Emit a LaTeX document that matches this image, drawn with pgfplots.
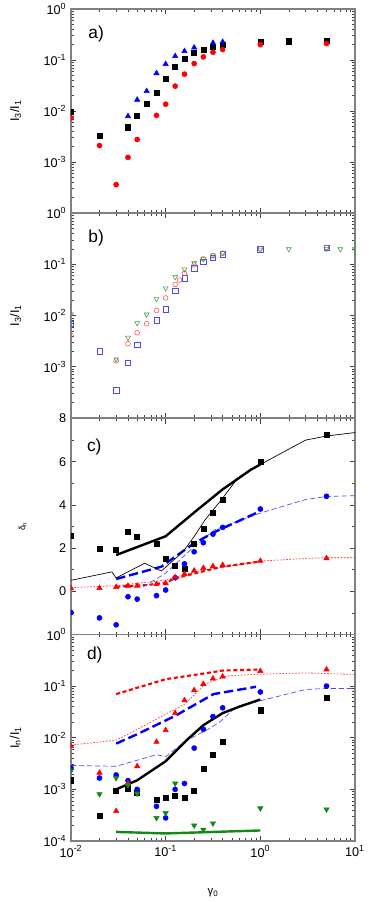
\documentclass[border=0pt]{standalone}
\usepackage{fontspec}
\setmainfont{Liberation Sans}
\usepackage{pgfplots}
\pgfplotsset{compat=1.18}

\definecolor{cred}{HTML}{FF0000}
\definecolor{cblue}{HTML}{0000FF}
\definecolor{cgreen}{HTML}{138A13}
\definecolor{lblue}{HTML}{4A4AFF}
\definecolor{lred}{HTML}{FF4A4A}
\definecolor{lgreen}{HTML}{3A9A3A}

\newcommand{\tsup}[1]{10\textsuperscript{#1}}

\pgfplotsset{
  panel/.style={
    scale only axis, width=213pt, anchor=south west,
    xmin=0.01, xmax=10,
    xtick={0.01,0.1,1,10},
    minor xtick={0.02,0.03,0.04,0.05,0.06,0.07,0.08,0.09,0.2,0.3,0.4,0.5,0.6,0.7,0.8,0.9,2,3,4,5,6,7,8,9},
    axis line style={draw=gray, line width=1pt},
    tick style={draw=gray!50!black, line width=0.4pt},
    major tick length=4pt, minor tick length=2pt,
    tick label style={font=\fontsize{9.5}{11}\selectfont},
    clip marker paths=true,
    ylabel style={at={(axis description cs:-0.195,0.5)}, anchor=center,
      font=\fontsize{9.5}{11}\selectfont},
  },
  logy/.style={
    ymin=1e-4, ymax=1,
    ytick={1e-4,1e-3,1e-2,1e-1,1},
    minor ytick={2e-4,3e-4,4e-4,5e-4,6e-4,7e-4,8e-4,9e-4,2e-3,3e-3,4e-3,5e-3,6e-3,7e-3,8e-3,9e-3,0.02,0.03,0.04,0.05,0.06,0.07,0.08,0.09,0.2,0.3,0.4,0.5,0.6,0.7,0.8,0.9},
  },
  bsq/.style={only marks, mark=square*, mark size=1.9pt, draw=none, fill=black},
  rci/.style={only marks, mark=*, mark size=1.9pt, color=cred},
  btr/.style={only marks, mark=triangle*, mark size=2.3pt, color=cblue},
  rtr/.style={only marks, mark=triangle*, mark size=2.3pt, color=cred},
  bci/.style={only marks, mark=*, mark size=1.9pt, color=cblue},
  gtd/.style={only marks, mark=triangle*, mark size=2.3pt, color=cgreen,
    every mark/.append style={rotate=180}},
}

\begin{document}
\begin{tikzpicture}
\path[use as bounding box] (0,0) rectangle (278.25pt,676.5pt);

% ---------- a)
\begin{axis}[xmode=log, ymode=log, panel, logy, at={(53.25pt,516.75pt)}, height=153pt,
  xticklabels=\empty,
  yticklabels={{},\tsup{-3},\tsup{-2},\tsup{-1},\tsup{0}},
  ylabel={I\textsubscript{3}/I\textsubscript{1}}]
\addplot[bsq] coordinates {(0.01,0.0095)(0.02,0.0032)(0.04,0.0048)(0.05,0.0081)(0.063,0.0136)(0.08,0.023)(0.1,0.0427)(0.126,0.073)(0.158,0.105)(0.2,0.138)(0.25,0.16)(0.316,0.18)(0.4,0.197)(1,0.223)(2,0.233)(5,0.236)};
\addplot[rci] coordinates {(0.01,0.0073)(0.02,0.0021)(0.03,0.00036)(0.04,0.00123)(0.05,0.00276)(0.08,0.0082)(0.1,0.0136)(0.126,0.0307)(0.158,0.0527)(0.2,0.085)(0.25,0.115)(0.316,0.142)(0.4,0.16)(1,0.2)(5,0.21)};
\addplot[btr] coordinates {(0.04,0.0079)(0.05,0.0166)(0.063,0.0245)(0.08,0.055)(0.1,0.083)(0.126,0.119)(0.158,0.149)(0.2,0.175)(0.316,0.216)(0.4,0.226)};
\node[anchor=west, font=\fontsize{13}{15}\selectfont] at (axis description cs:0.045,0.877) {a)};
\end{axis}

% ---------- b)
\begin{axis}[xmode=log, ymode=log, panel, logy, at={(53.25pt,363pt)}, height=153.75pt,
  xticklabels=\empty,
  yticklabels={{},\tsup{-3},\tsup{-2},\tsup{-1},\tsup{0}},
  ylabel={I\textsubscript{3}/I\textsubscript{1}}]
\addplot[only marks, mark=square, mark size=2pt, lblue, thin] coordinates {(0.01,0.007)(0.02,0.002)(0.03,0.00035)(0.04,0.0012)(0.05,0.0027)(0.08,0.0081)(0.1,0.0133)(0.126,0.0305)(0.158,0.053)(0.2,0.0835)(0.25,0.111)(0.316,0.135)(0.4,0.157)(1,0.197)(5,0.212)};
\addplot[only marks, mark=o, mark size=1.8pt, lred, thin] coordinates {(0.01,0.0041)(0.03,0.0013)(0.04,0.0028)(0.05,0.0046)(0.063,0.0069)(0.08,0.0125)(0.1,0.022)(0.126,0.0404)(0.14,0.049)(0.158,0.067)(0.2,0.097)(0.25,0.127)(0.316,0.146)(0.4,0.164)(1,0.2)(5,0.212)};
\addplot[only marks, mark=triangle, mark size=2.1pt, lgreen, thin, every mark/.append style={rotate=180}] coordinates {(0.01,0.0105)(0.03,0.0014)(0.04,0.0037)(0.05,0.0071)(0.063,0.0105)(0.08,0.021)(0.1,0.034)(0.126,0.056)(0.158,0.08)(0.2,0.105)(0.25,0.127)(0.316,0.15)(0.4,0.167)(1,0.194)(2,0.197)(5,0.2)(7,0.197)(10,0.197)};
\node[anchor=west, font=\fontsize{13}{15}\selectfont] at (axis description cs:0.045,0.88) {b)};
\end{axis}

% ---------- c)
\begin{axis}[xmode=log, panel, at={(53.25pt,200.6pt)}, height=162pt,
  ymin=-2, ymax=8, ytick={-2,0,2,4,6,8}, minor ytick={-1,1,3,5,7},
  yticklabels={{},0,2,4,6,8}, xticklabels=\empty,
  ylabel={δ\textsubscript{n}},
  ylabel style={font=\fontsize{6.5}{8}\selectfont, at={(axis description cs:-0.17,0.5)}}]
\addplot[lred, line width=0.6pt, dash pattern=on 1.2pt off 1.2pt] coordinates {(0.01,0.17)(0.03,0.26)(0.1,0.52)(0.2,0.9)(1,1.4)(3,1.52)(5,1.56)(10,1.56)};
\addplot[cred, line width=1.6pt, dash pattern=on 3pt off 2pt] coordinates {(0.03,0.21)(0.063,0.29)(0.1,0.4)(0.126,0.6)(0.39,1.14)(1,1.38)};
\addplot[lblue, line width=0.5pt, dash pattern=on 4pt off 2pt] coordinates {(0.058,0.21)(0.1,0.84)(0.2,2.07)(0.33,2.85)(1,3.62)(3,4.25)(5,4.39)(10,4.43)};
\addplot[cblue, line width=1.8pt, dash pattern=on 7pt off 3pt] coordinates {(0.03,0.57)(0.09,1.14)(0.2,2.23)(0.35,2.8)(0.9,3.62)};
\addplot[black, line width=0.5pt] coordinates {(0.01,0.51)(0.027,0.9)(0.03,0.62)(0.06,1.3)(0.09,0.94)(0.153,1.84)(0.2,2.54)(0.26,3.3)(0.39,4.25)(0.58,5.26)(1,5.87)(3,7.0)(5,7.19)(10,7.35)};
\addplot[black, line width=1.8pt] coordinates {(0.03,1.68)(0.1,2.55)(0.2,3.65)(0.4,4.72)(0.8,5.64)(1,5.87)};
\addplot[bsq] coordinates {(0.01,2.56)(0.02,1.98)(0.03,1.93)(0.04,2.76)(0.05,2.51)(0.08,2.2)(0.1,1.5)(0.126,1.18)(0.158,1.05)(0.2,2.19)(0.25,2.91)(0.316,3.64)(0.4,4.23)(1,5.98)(5,7.24)};
\addplot[bci] coordinates {(0.01,-0.98)(0.02,-1.23)(0.03,-1.55)(0.04,-0.25)(0.05,-0.36)(0.08,-0.2)(0.1,0.06)(0.126,0.63)(0.158,1.27)(0.2,1.83)(0.25,2.25)(0.316,2.65)(0.4,2.96)(1,3.81)(5,4.4)};
\addplot[rtr] coordinates {(0.01,0.14)(0.02,0.15)(0.03,0.2)(0.04,0.25)(0.05,0.26)(0.08,0.33)(0.1,0.37)(0.126,0.65)(0.158,0.8)(0.2,0.96)(0.25,1.08)(0.316,1.16)(0.4,1.22)(1,1.41)(5,1.53)};
\node[anchor=west, font=\fontsize{13}{15}\selectfont] at (axis description cs:0.04,0.868) {c)};
\end{axis}

% ---------- d)
\begin{axis}[xmode=log, ymode=log, panel, logy, at={(53.25pt,45.75pt)}, height=154.9pt,
  yticklabels={\tsup{-4},\tsup{-3},\tsup{-2},\tsup{-1},\tsup{0}},
  xticklabels={\tsup{-2},\tsup{-1},\tsup{0},\tsup{1}},
  ylabel={I\textsubscript{n}/I\textsubscript{1}},
  xlabel={γ\textsubscript{0}},
  xlabel style={at={(axis description cs:0.5,-0.25)}, anchor=center,
    font=\fontsize{8.5}{10}\selectfont}]
\addplot[lred, line width=0.6pt, dash pattern=on 1.2pt off 1.2pt] coordinates {(0.01,0.0072)(0.03,0.009)(0.04,0.0117)(0.16,0.045)(0.26,0.11)(0.45,0.158)(1,0.17)(3,0.18)(10,0.168)};
\addplot[cred, line width=1.6pt, dash pattern=on 3pt off 2pt] coordinates {(0.03,0.07)(0.1,0.136)(0.25,0.175)(0.4,0.2)(1,0.21)};
\addplot[lblue, line width=0.5pt, dash pattern=on 4pt off 2pt] coordinates {(0.01,0.0029)(0.03,0.0028)(0.08,0.0047)(0.1,0.0043)(0.166,0.0089)(0.27,0.014)(0.37,0.02)(0.56,0.04)(1,0.052)(3,0.086)(5,0.09)(10,0.09)};
\addplot[cblue, line width=1.8pt, dash pattern=on 7pt off 3pt] coordinates {(0.03,0.0077)(0.05,0.0117)(0.126,0.0265)(0.32,0.07)(0.9,0.097)};
\addplot[black, line width=1.8pt] coordinates {(0.03,0.001)(0.05,0.0015)(0.1,0.0035)(0.166,0.0089)(0.25,0.0175)(0.4,0.03)(0.6,0.04)(1,0.055)};
\addplot[cgreen, line width=1.8pt] coordinates {(0.03,0.00015)(0.1,0.00014)(1,0.00016)};
\addplot[bsq] coordinates {(0.01,0.0015)(0.02,0.00031)(0.03,0.00093)(0.04,0.00105)(0.05,0.00085)(0.08,0.00063)(0.1,0.00068)(0.126,0.00074)(0.158,0.0007)(0.2,0.00095)(0.25,0.0025)(0.316,0.0047)(0.4,0.0085)(1,0.034)(5,0.06)};
\addplot[bci] coordinates {(0.01,0.0026)(0.02,0.00166)(0.03,0.0019)(0.04,0.00148)(0.05,0.001)(0.08,0.00047)(0.1,0.00028)(0.126,0.001)(0.158,0.0013)(0.2,0.0063)(0.25,0.0146)(0.316,0.0257)(0.4,0.038)(1,0.077)(5,0.1)};
\addplot[rtr] coordinates {(0.01,0.0069)(0.02,0.0021)(0.03,0.00038)(0.04,0.0013)(0.05,0.0028)(0.08,0.0083)(0.1,0.014)(0.126,0.03)(0.158,0.053)(0.2,0.083)(0.25,0.11)(0.316,0.14)(0.4,0.153)(1,0.195)(5,0.21)};
\addplot[gtd] coordinates {(0.01,0.0023)(0.02,0.00081)(0.03,0.00166)(0.04,0.0012)(0.05,0.00083)(0.08,0.00028)(0.1,0.00035)(0.126,0.0013)(0.2,0.0002)(0.25,0.000166)(0.316,0.00022)(1,0.00043)(5,0.00041)};
\node[anchor=west, font=\fontsize{13}{15}\selectfont] at (axis description cs:0.04,0.9) {d)};
\end{axis}
\end{tikzpicture}
\end{document}
